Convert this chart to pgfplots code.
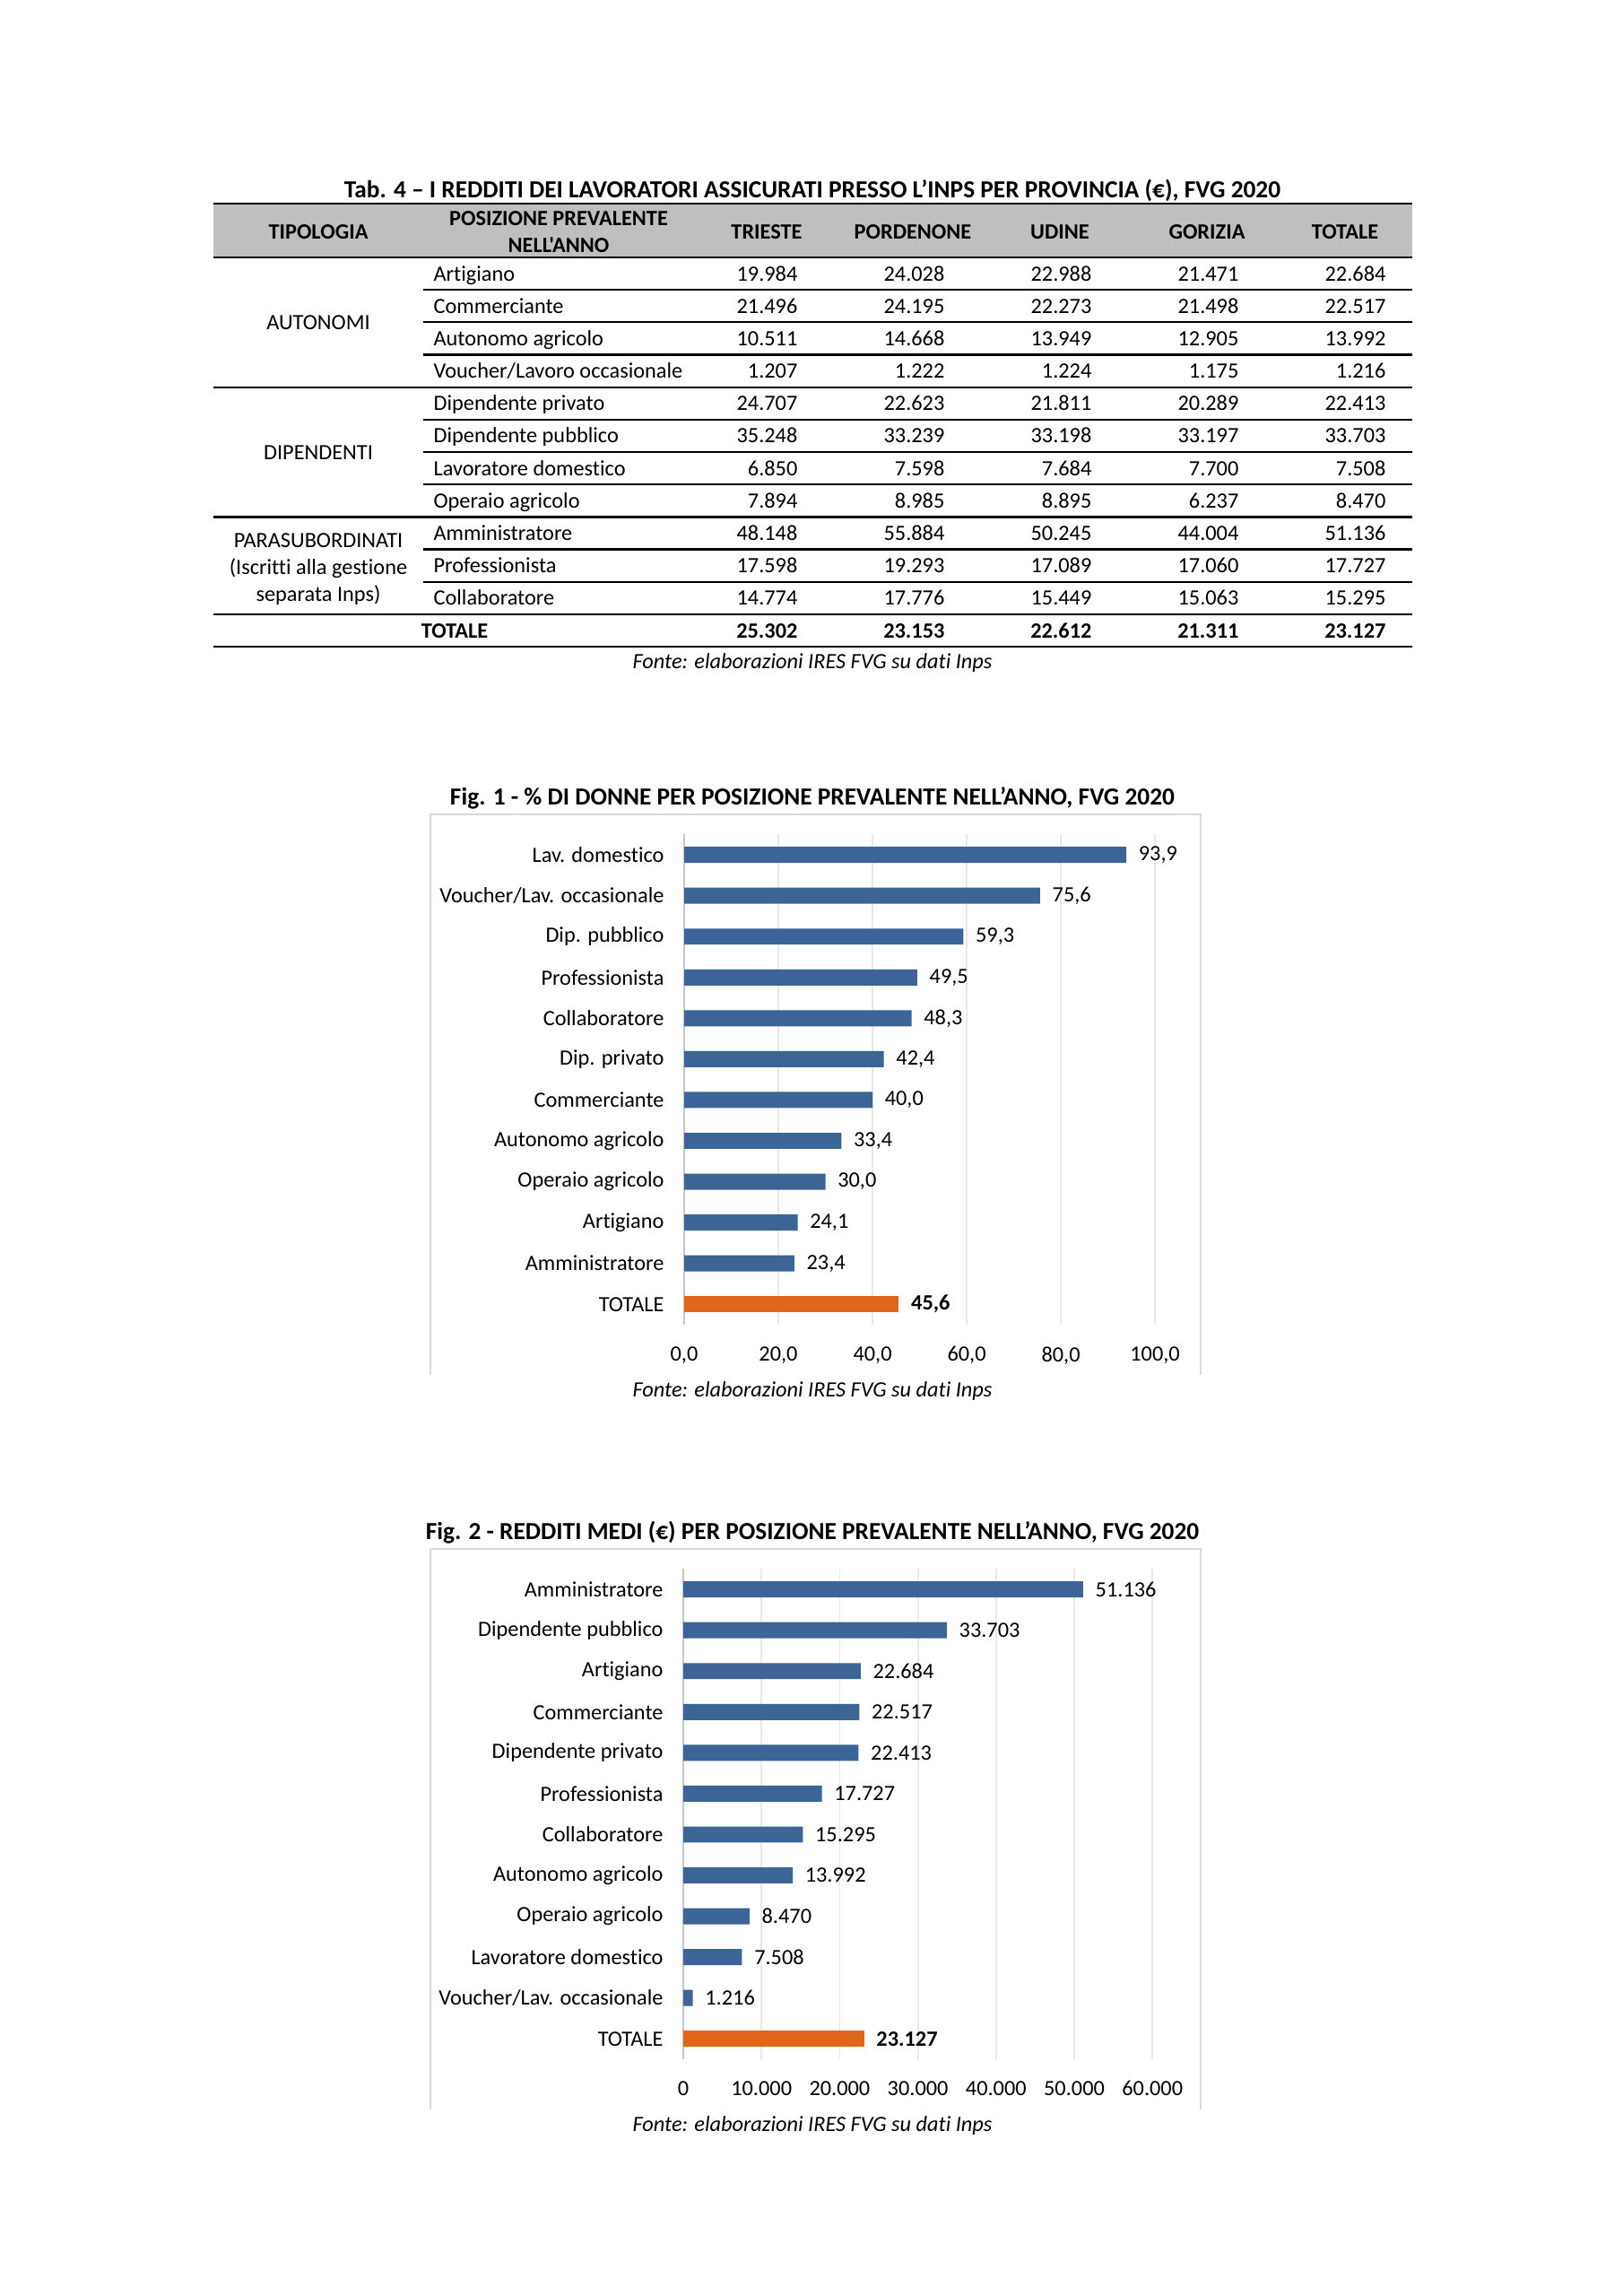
\documentclass[border=0pt]{standalone}
\usepackage{pgfplots}
\pgfplotsset{compat=1.18}
\usepackage{fontspec}
\setmainfont{Carlito}[Ligatures={TeXOff,NoCommon}]

\definecolor{barblue}{RGB}{60,100,150}
\definecolor{barorange}{RGB}{224,102,26}
\definecolor{headgrey}{RGB}{191,191,191}
\definecolor{framegrey}{RGB}{217,217,217}
\definecolor{gridgrey}{RGB}{232,232,232}
\definecolor{axisgrey}{RGB}{200,200,200}

\newcommand{\tf}{\fontsize{8}{9.6}\selectfont}
\newcommand{\ttl}{\fontsize{9}{10.8}\selectfont\bfseries}
\def\u{0.3289pt}

% common look of the two bar charts
\pgfplotsset{
  hbar/.style={
    anchor=south west,
    scale only axis,
    height=179.8pt,
    xbar, bar shift=0pt, bar width=5.9pt,
    ymin=-0.5, ymax=11.5, ytick={0,...,11},
    enlargelimits=false,
    axis lines*=left,
    x axis line style={draw=none},
    y axis line style={draw=axisgrey, line width=0.6pt, -},
    xmajorgrids,
    grid style={draw=gridgrey, line width=0.6pt},
    tick style={draw=none},
    ticklabel style={font=\tf},
    yticklabel style={xshift=0.4pt},
    xticklabel style={yshift=-4.5pt},
    nodes near coords,
    nodes near coords style={font=\tf, text=black, xshift=1pt},
    /pgf/number format/assume math mode=true,
    clip=false,
  },
}

\begin{document}
\begin{tikzpicture}
\fill[white] (0,0) rectangle (1810*\u,-2560*\u);
\path[use as bounding box] (0,0) rectangle (1810*\u,-2560*\u);

\begin{scope}[x=\u, y=-\u, every node/.style={font=\tf, inner sep=0pt}]
  % ---- Tab. 4 ----
  \node[anchor=base, font=\ttl] at (906,220)
    {Tab. 4 – I REDDITI DEI LAVORATORI ASSICURATI PRESSO L’INPS PER PROVINCIA (€), FVG 2020};
  \fill[headgrey] (238,227) rectangle (1575,287);
  \draw[line width=0.75pt] (238,227) -- (1575,227);
  \draw[line width=0.75pt] (238,287) -- (1575,287);

  \begin{scope}[every node/.append style={font=\tf\bfseries, anchor=base}]
    \node at (355,266) {TIPOLOGIA};
    \node at (623,251) {POSIZIONE PREVALENTE};
    \node at (623,281) {NELL'ANNO};
    \node at (855,266) {TRIESTE};
    \node at (1018,266) {PORDENONE};
    \node at (1182,266) {UDINE};
    \node at (1346,266) {GORIZIA};
    \node at (1500,266) {TOTALE};
  \end{scope}

  % row rules
  \foreach \k in {1,2,3,5,6,7,9,10}
    \draw[line width=0.75pt] (472,{287+36.17*\k}) -- (1575,{287+36.17*\k});
  \foreach \k in {4,8,11,12}
    \draw[line width=0.75pt] (238,{287+36.17*\k}) -- (1575,{287+36.17*\k});

  % group labels
  \node[anchor=base] at (355,367) {AUTONOMI};
  \node[anchor=base] at (355,512) {DIPENDENTI};
  \node[anchor=base] at (355,610) {PARASUBORDINATI};
  \node[anchor=base] at (355,640) {(Iscritti alla gestione};
  \node[anchor=base] at (355,670) {separata Inps)};

  % table body
  \foreach \r/\lab/\a/\b/\c/\d/\e in {
      0/Artigiano/19.984/24.028/22.988/21.471/22.684,
      1/Commerciante/21.496/24.195/22.273/21.498/22.517,
      2/Autonomo agricolo/10.511/14.668/13.949/12.905/13.992,
      3/{Voucher/Lavoro occasionale}/1.207/1.222/1.224/1.175/1.216,
      4/Dipendente privato/24.707/22.623/21.811/20.289/22.413,
      5/Dipendente pubblico/35.248/33.239/33.198/33.197/33.703,
      6/Lavoratore domestico/6.850/7.598/7.684/7.700/7.508,
      7/Operaio agricolo/7.894/8.985/8.895/6.237/8.470,
      8/Amministratore/48.148/55.884/50.245/44.004/51.136,
      9/Professionista/17.598/19.293/17.089/17.060/17.727,
      10/Collaboratore/14.774/17.776/15.449/15.063/15.295}{
    \pgfmathsetmacro\yb{305.1+36.17*\r+8}
    \node[anchor=base west] at (483,\yb) {\lab};
    \node[anchor=base east] at (890,\yb) {\a};
    \node[anchor=base east] at (1054,\yb) {\b};
    \node[anchor=base east] at (1218,\yb) {\c};
    \node[anchor=base east] at (1382,\yb) {\d};
    \node[anchor=base east] at (1546,\yb) {\e};
  }
  \begin{scope}[every node/.append style={font=\tf\bfseries}]
    \node[anchor=base] at (507,711) {TOTALE};
    \node[anchor=base east] at (890,711) {25.302};
    \node[anchor=base east] at (1054,711) {23.153};
    \node[anchor=base east] at (1218,711) {22.612};
    \node[anchor=base east] at (1382,711) {21.311};
    \node[anchor=base east] at (1546,711) {23.127};
  \end{scope}
  \node[anchor=base, font=\tf\itshape] at (906,745) {Fonte: elaborazioni IRES FVG su dati Inps};

  % ---- Fig. 1 ----
  \node[anchor=base, font=\ttl] at (906,897)
    {Fig. 1 - \% DI DONNE PER POSIZIONE PREVALENTE NELL’ANNO, FVG 2020};
  \draw[framegrey, line width=0.6pt] (480,1533) -- (480,908) -- (1339,908) -- (1339,1533);
  \node[anchor=base, font=\tf\itshape] at (906,1557) {Fonte: elaborazioni IRES FVG su dati Inps};

  % ---- Fig. 2 ----
  \node[anchor=base, font=\ttl] at (906,1716)
    {Fig. 2 - REDDITI MEDI (€) PER POSIZIONE PREVALENTE NELL’ANNO, FVG 2020};
  \draw[framegrey, line width=0.6pt] (480,2352) -- (480,1727) -- (1339,1727) -- (1339,2352);
  \node[anchor=base, font=\tf\itshape] at (906,2376) {Fonte: elaborazioni IRES FVG su dati Inps};
\end{scope}

% Fig. 1 chart
\begin{axis}[hbar,
  at={(763*\u,-1477*\u)},
  width=172.7pt,
  xmin=0, xmax=100, xtick={0,20,...,100},
  /pgf/number format/fixed,
  /pgf/number format/fixed zerofill,
  /pgf/number format/precision=1,
  /pgf/number format/use comma,
  yticklabels={TOTALE, Amministratore, Artigiano, Operaio agricolo,
    Autonomo agricolo, Commerciante, Dip. privato, Collaboratore,
    Professionista, Dip. pubblico, Voucher/Lav. occasionale, Lav. domestico},
]
\addplot[fill=barblue, draw=none] coordinates {
  (23.4,1) (24.1,2) (30.0,3) (33.4,4) (40.0,5) (42.4,6)
  (48.3,7) (49.5,8) (59.3,9) (75.6,10) (93.9,11)};
\addplot[fill=barorange, draw=none, nodes near coords style={font=\tf\bfseries}]
  coordinates {(45.6,0)};
\end{axis}

% Fig. 2 chart
\begin{axis}[hbar,
  at={(762*\u,-2296*\u)},
  width=172.1pt,
  xmin=0, xmax=60000, xtick={0,10000,...,60000},
  scaled x ticks=false,
  /pgf/number format/fixed,
  /pgf/number format/precision=0,
  /pgf/number format/1000 sep={.},
  yticklabels={TOTALE, Voucher/Lav. occasionale, Lavoratore domestico,
    Operaio agricolo, Autonomo agricolo, Collaboratore, Professionista,
    Dipendente privato, Commerciante, Artigiano, Dipendente pubblico,
    Amministratore},
]
\addplot[fill=barblue, draw=none] coordinates {
  (1216,1) (7508,2) (8470,3) (13992,4) (15295,5) (17727,6)
  (22413,7) (22517,8) (22684,9) (33703,10) (51136,11)};
\addplot[fill=barorange, draw=none, nodes near coords style={font=\tf\bfseries}]
  coordinates {(23127,0)};
\end{axis}
\end{tikzpicture}
\end{document}
